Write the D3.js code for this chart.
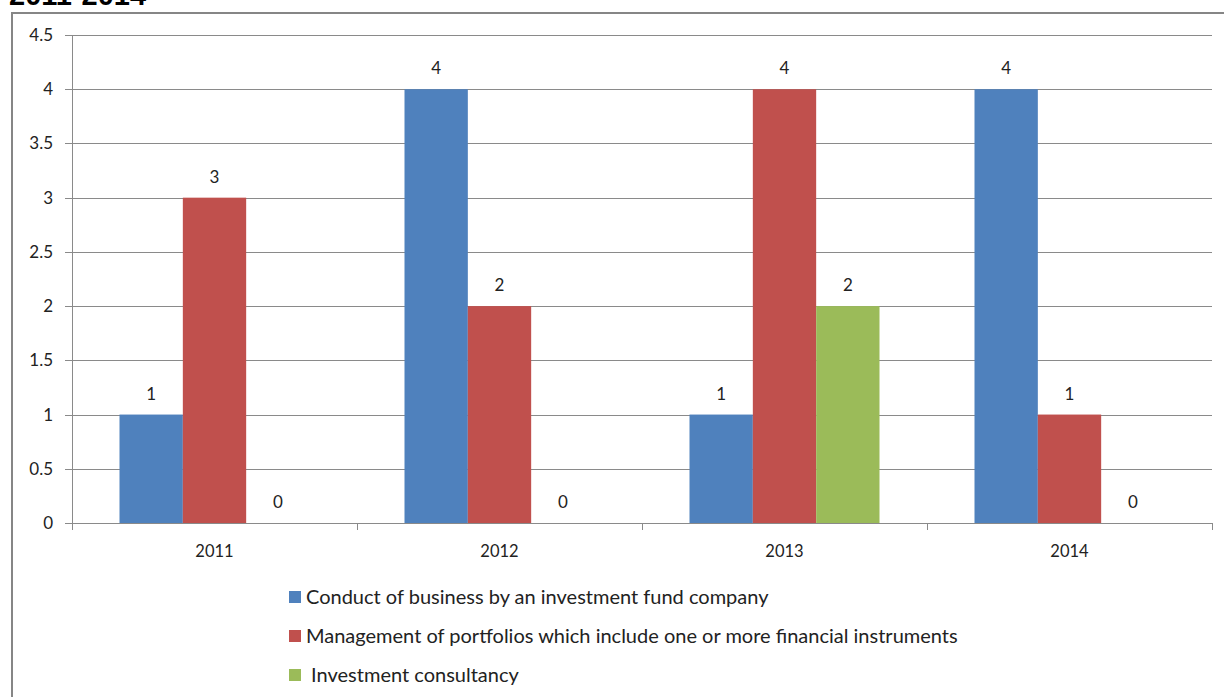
<!DOCTYPE html>
<meta charset="utf-8">
<style>
body { margin: 0; background: #fff; }
svg text { font-family: Lato, "Open Sans", sans-serif; fill: #222; }
.title { font-family: "Liberation Sans", Arial, sans-serif; font-weight: bold; fill: #000; }
</style>
<body>
<script src="https://d3js.org/d3.v7.min.js"></script>
<script>
// data
var years = ["2011", "2012", "2013", "2014"]
var seriesNames = [
  "Conduct of business by an investment fund company",
  "Management of portfolios which include one or more financial instruments",
  " Investment consultancy"
]
var conduct = [1, 4, 1, 4]
var management = [3, 2, 4, 1]
var consultancy = [0, 0, 2, 0]
var colors = ["#4F81BD", "#C0504D", "#9BBB59"]
var yTicks = [0, 0.5, 1, 1.5, 2, 2.5, 3, 3.5, 4, 4.5]

var allSeries = [conduct, management, consultancy]

var W = 1224, H = 697
var plot = {left: 72, right: 1212, top: 35, bottom: 523}

var svg = d3.select("body").append("svg")
    .attr("width", W)
    .attr("height", H)

// title, cut at the top in the original
svg.append("text").attr("class", "title")
    .attr("x", 9).attr("y", 5)
    .style("font-size", "29px")
    .text("2011-2014")

// outer chart frame
svg.append("rect")
    .attr("x", 12).attr("y", 13)
    .attr("width", 1240).attr("height", 720)
    .attr("fill", "none")
    .attr("stroke", "#868686")
    .attr("stroke-width", 2)

var x0 = d3.scaleBand().domain(years).range([plot.left, plot.right])
var x1 = d3.scaleBand().domain(d3.range(seriesNames.length))
    .range([0, x0.bandwidth()]).paddingInner(0).paddingOuter(0.75)
var y = d3.scaleLinear().domain([0, 4.5]).range([plot.bottom, plot.top])

// gridlines + y labels
var yg = svg.append("g")
yg.selectAll("line").data(yTicks).enter().append("line")
    .attr("x1", plot.left - 7).attr("x2", plot.right)
    .attr("y1", d => Math.round(y(d)) + 0.5).attr("y2", d => Math.round(y(d)) + 0.5)
    .attr("stroke", "#8a8a8a").attr("stroke-width", 1)
yg.selectAll("text").data(yTicks).enter().append("text")
    .attr("x", plot.left - 19).attr("y", d => y(d))
    .attr("dy", "0.35em")
    .attr("text-anchor", "end")
    .style("font-size", "17px")
    .text(d => d)

// y axis line
svg.append("line")
    .attr("x1", plot.left + 0.5).attr("x2", plot.left + 0.5)
    .attr("y1", plot.top).attr("y2", plot.bottom + 7)
    .attr("stroke", "#8a8a8a")

// category boundary ticks
var bounds = years.map(d => x0(d) + x0.bandwidth())
svg.selectAll(".ctick").data(bounds).enter().append("line")
    .attr("x1", d => Math.round(d) + 0.5).attr("x2", d => Math.round(d) + 0.5)
    .attr("y1", plot.bottom).attr("y2", plot.bottom + 7)
    .attr("stroke", "#8a8a8a")

// x labels
svg.selectAll(".xlab").data(years).enter().append("text")
    .attr("x", d => x0(d) + x0.bandwidth() / 2)
    .attr("y", plot.bottom + 34)
    .attr("text-anchor", "middle")
    .style("font-size", "16.5px")
    .text(d => d)

// bars
var groups = svg.selectAll(".grp").data(years).enter().append("g")
    .attr("transform", d => "translate(" + x0(d) + ",0)")

groups.each(function(yr, i) {
  var g = d3.select(this)
  allSeries.forEach(function(s, k) {
    var v = s[i]
    if (v > 0) {
      g.append("rect")
        .attr("x", x1(k)).attr("width", x1.bandwidth())
        .attr("y", y(v)).attr("height", y(0) - y(v))
        .attr("fill", colors[k])
    }
    g.append("text")
      .attr("x", x1(k) + x1.bandwidth() / 2)
      .attr("y", y(v) - 21)
      .attr("dy", "0.35em")
      .attr("text-anchor", "middle")
      .style("font-size", "17px")
      .text(v)
  })
})

// legend
var leg = svg.append("g").attr("transform", "translate(289,597)")
var items = leg.selectAll("g").data(seriesNames).enter().append("g")
    .attr("transform", (d, i) => "translate(0," + i * 39 + ")")
items.append("rect")
    .attr("x", 0).attr("y", -6).attr("width", 12).attr("height", 12)
    .attr("fill", (d, i) => colors[i])
items.append("text")
    .attr("x", 17).attr("y", 0).attr("dy", "0.35em")
    .style("font-size", "20px")
    .style("white-space", "pre")
    .text(d => d)
</script>
</body>
